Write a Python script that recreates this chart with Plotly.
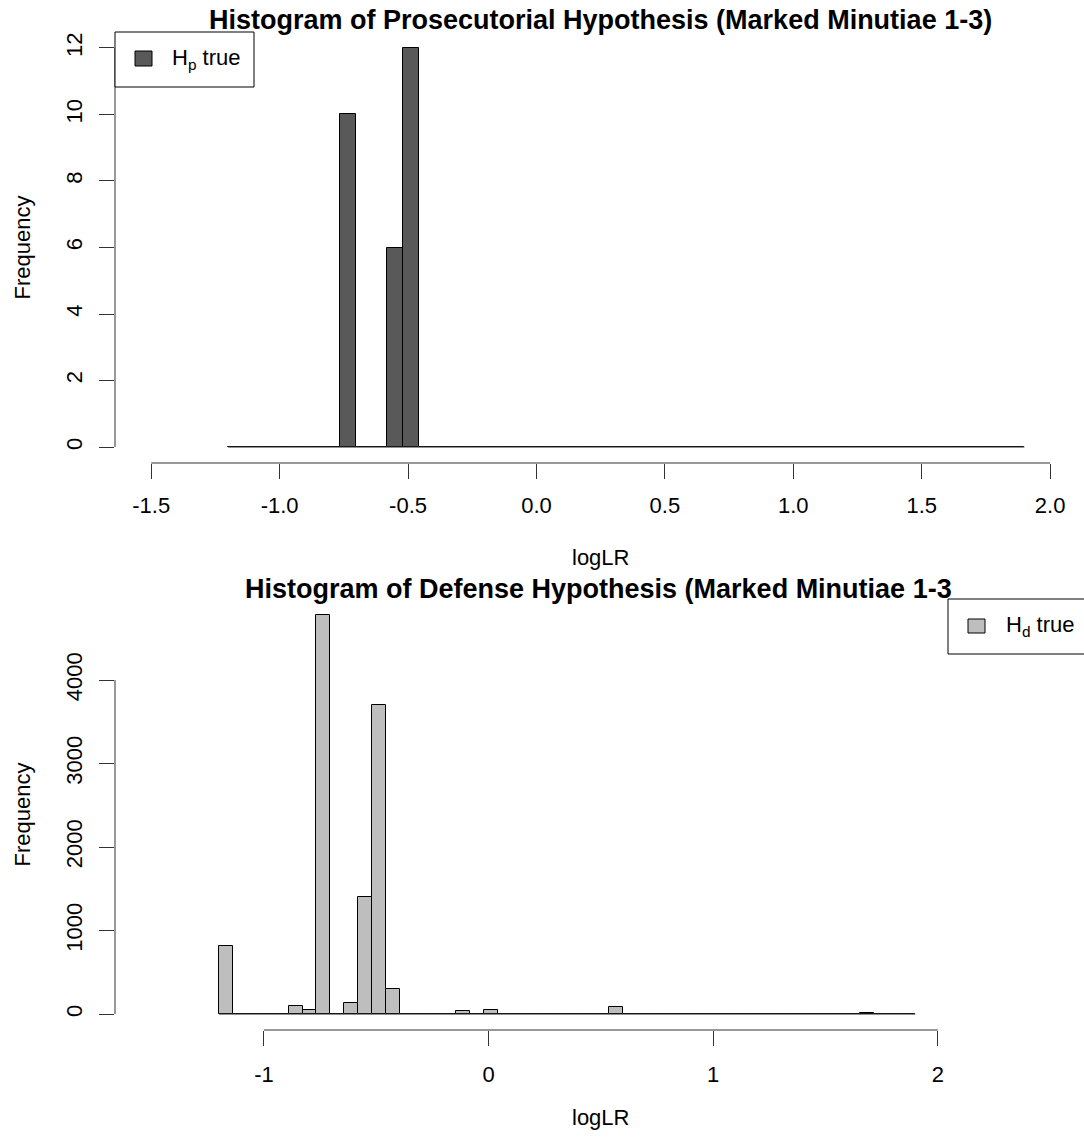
import numpy as np
import plotly.graph_objects as go

# ---- data -------------------------------------------------------------
# 50 equal-width bins spanning the observed logLR range
break_lo, break_hi, n_bins = -1.2, 1.9, 50

# counts per bin, H_p true (prosecution hypothesis)
hp_counts = [
    0, 0, 0, 0, 0, 0, 0, 10, 0, 0,
    6, 12, 0, 0, 0, 0, 0, 0, 0, 0,
    0, 0, 0, 0, 0, 0, 0, 0, 0, 0,
    0, 0, 0, 0, 0, 0, 0, 0, 0, 0,
    0, 0, 0, 0, 0, 0, 0, 0, 0, 0,
]

# counts per bin, H_d true (defense hypothesis)
hd_counts = [
    820, 0, 0, 0, 0, 100, 50, 4780, 0, 130,
    1400, 3700, 300, 0, 0, 0, 0, 35, 0, 45,
    0, 0, 0, 0, 0, 0, 0, 0, 90, 0,
    0, 0, 0, 0, 0, 0, 0, 0, 0, 0,
    0, 0, 0, 0, 0, 0, 12, 0, 0, 0,
]

top_xticks = [-1.5, -1.0, -0.5, 0.0, 0.5, 1.0, 1.5, 2.0]
top_xticklabels = ["-1.5", "-1.0", "-0.5", "0.0", "0.5", "1.0", "1.5", "2.0"]
top_yticks = [0, 2, 4, 6, 8, 10, 12]
bot_xticks = [-1, 0, 1, 2]
bot_xticklabels = ["-1", "0", "1", "2"]
bot_yticks = [0, 1000, 2000, 3000, 4000]

title_top = "Histogram of Prosecutorial Hypothesis (Marked Minutiae 1-3)"
title_bot = "Histogram of Defense Hypothesis (Marked Minutiae 1-3"

# ---- geometry ---------------------------------------------------------
W, H = 1084, 1145
FONT = "Liberation Sans, Arial, sans-serif"
AXIS_COL = "#333333"

breaks = np.linspace(break_lo, break_hi, n_bins + 1)
mids = (breaks[:-1] + breaks[1:]) / 2
bin_w = breaks[1] - breaks[0]


def px(xp):
    return xp / W


def py(yp):
    return 1 - yp / H


left, right = 115, 1084
top_panel = (32, 463)
bot_panel = (599, 1030)

fig = go.Figure()

fig.add_trace(go.Bar(
    x=mids, y=hp_counts, width=bin_w,
    marker=dict(color="#595959", line=dict(color="black", width=1)),
    xaxis="x", yaxis="y", showlegend=False,
))
fig.add_trace(go.Bar(
    x=mids, y=hd_counts, width=bin_w,
    marker=dict(color="#BEBEBE", line=dict(color="black", width=1)),
    xaxis="x2", yaxis="y2", showlegend=False,
))
# empty bins collapse to a flat line along the full break range
for xa, ya in (("x", "y"), ("x2", "y2")):
    fig.add_trace(go.Scatter(
        x=[breaks[0], breaks[-1]], y=[0, 0], mode="lines",
        line=dict(color="#333333", width=1),
        xaxis=xa, yaxis=ya, showlegend=False, hoverinfo="skip",
    ))

tickfont = dict(family=FONT, size=22, color="black")
common = dict(showgrid=False, zeroline=False, showline=False, ticks="outside",
              ticklen=15, tickwidth=1, tickcolor=AXIS_COL, tickfont=tickfont)

fig.update_layout(
    width=W, height=H,
    margin=dict(l=0, r=0, t=0, b=0),
    paper_bgcolor="white", plot_bgcolor="white",
    bargap=0,
    xaxis=dict(domain=[px(left), 1], range=[-1.641, 2.132], anchor="y",
               tickmode="array", tickvals=top_xticks, ticktext=top_xticklabels,
               ticklabelstandoff=8, **common),
    yaxis=dict(domain=[py(top_panel[1]), py(top_panel[0])], range=[-0.48, 12.48],
               anchor="x", tickmode="array", tickvals=top_yticks, tickangle=-90,
               ticklabelstandoff=8, **common),
    xaxis2=dict(domain=[px(left), 1], range=[-1.663, 2.651], anchor="y2",
                tickmode="array", tickvals=bot_xticks, ticktext=bot_xticklabels,
                ticklabelstandoff=10, **common),
    yaxis2=dict(domain=[py(bot_panel[1]), py(bot_panel[0])], range=[-191, 4971],
                anchor="x2", tickmode="array", tickvals=bot_yticks, tickangle=-90,
                ticklabelstandoff=8, **common),
)

shapes = []
# axis lines spanning only first..last tick
shapes.append(dict(type="line", xref="x", yref="y domain", x0=top_xticks[0], x1=top_xticks[-1],
                   y0=0, y1=0, line=dict(color=AXIS_COL, width=1)))
shapes.append(dict(type="line", xref="x domain", yref="y", x0=0, x1=0,
                   y0=top_yticks[0], y1=top_yticks[-1], line=dict(color=AXIS_COL, width=1)))
shapes.append(dict(type="line", xref="x2", yref="y2 domain", x0=bot_xticks[0], x1=bot_xticks[-1],
                   y0=0, y1=0, line=dict(color=AXIS_COL, width=1)))
shapes.append(dict(type="line", xref="x2 domain", yref="y2", x0=0, x1=0,
                   y0=bot_yticks[0], y1=bot_yticks[-1], line=dict(color=AXIS_COL, width=1)))

# legend boxes
shapes.append(dict(type="rect", xref="paper", yref="paper",
                   x0=px(115), x1=px(254), y0=py(87), y1=py(32),
                   line=dict(color="black", width=1), fillcolor="white"))
shapes.append(dict(type="rect", xref="paper", yref="paper",
                   x0=px(135), x1=px(152), y0=py(66), y1=py(51),
                   line=dict(color="black", width=1), fillcolor="#595959"))
shapes.append(dict(type="rect", xref="paper", yref="paper",
                   x0=px(948), x1=px(1095), y0=py(654), y1=py(599),
                   line=dict(color="black", width=1), fillcolor="white"))
shapes.append(dict(type="rect", xref="paper", yref="paper",
                   x0=px(968), x1=px(985), y0=py(633), y1=py(619),
                   line=dict(color="black", width=1), fillcolor="#BEBEBE"))
fig.update_layout(shapes=shapes)

ann = []
ann.append(dict(text="<b>" + title_top + "</b>", x=px(600), y=py(20), xref="paper", yref="paper",
                showarrow=False, xanchor="center", yanchor="middle",
                font=dict(family=FONT, size=27, color="black")))
ann.append(dict(text="<b>" + title_bot + "</b>", x=px(598), y=py(589), xref="paper", yref="paper",
                showarrow=False, xanchor="center", yanchor="middle",
                font=dict(family=FONT, size=27, color="black")))
for yc in ((top_panel[0] + top_panel[1]) / 2, (bot_panel[0] + bot_panel[1]) / 2):
    ann.append(dict(text="Frequency", x=px(22), y=py(yc), xref="paper", yref="paper",
                    showarrow=False, textangle=-90, xanchor="center", yanchor="middle",
                    font=dict(family=FONT, size=22, color="black")))
for yc in (557, 1117):
    ann.append(dict(text="logLR", x=px(600), y=py(yc), xref="paper", yref="paper",
                    showarrow=False, xanchor="center", yanchor="middle",
                    font=dict(family=FONT, size=22, color="black")))
ann.append(dict(text="H<sub>p</sub> true", x=px(170), y=py(59), xref="paper", yref="paper",
                showarrow=False, xanchor="left", yanchor="middle",
                font=dict(family=FONT, size=22, color="black")))
ann.append(dict(text="H<sub>d</sub> true", x=px(1004), y=py(626), xref="paper", yref="paper",
                showarrow=False, xanchor="left", yanchor="middle",
                font=dict(family=FONT, size=22, color="black")))
fig.update_layout(annotations=ann)

fig.write_html("out.html")
